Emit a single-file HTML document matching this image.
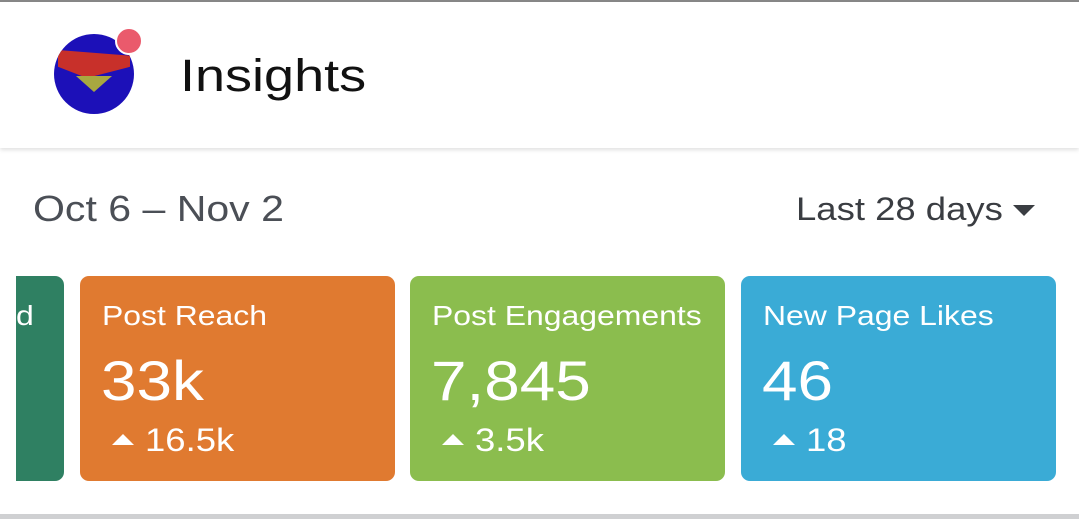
<!DOCTYPE html>
<html><head><meta charset="utf-8"><style>
*{margin:0;padding:0;box-sizing:border-box}
body{width:1079px;height:519px;overflow:hidden;background:#fff;font-family:"Liberation Sans",Arial,sans-serif;position:relative}
.abs{position:absolute}
.sx{transform:scaleX(1.14);transform-origin:0 0;white-space:nowrap}
.card{position:absolute;top:276px;height:205px;border-radius:9px;color:#fff}
.card .t{position:absolute;left:22px;top:24px;font-size:28px}
.card .v{position:absolute;left:21px;top:72px;font-size:56px}
.card .d{position:absolute;left:65px;top:146px;font-size:32px}
.card .tri{position:absolute;left:32px;top:158px;width:0;height:0;border-left:11px solid transparent;border-right:11px solid transparent;border-bottom:11px solid #fff}
</style></head><body>
<div class="abs" style="left:0;top:0;width:1079px;height:2px;background:#888"></div>
<div class="abs" style="left:0;top:2px;width:1079px;height:146px;background:#fff;box-shadow:0 2px 4px rgba(0,0,0,0.12)"></div>
<div class="abs" style="left:54px;top:34px;width:80px;height:80px;border-radius:50%;background:#1c10b8;overflow:hidden">
  <div class="abs" style="left:4px;top:16px;width:72px;height:28px;background:#c8302a;clip-path:polygon(0 0,100% 20%,100% 60%,40% 100%,0 60%)"></div>
  <div class="abs" style="left:22px;top:42px;width:36px;height:16px;background:#a8a840;clip-path:polygon(0 0,100% 0,50% 100%)"></div>
</div>
<div class="abs" style="left:115px;top:27px;width:28px;height:28px;border-radius:50%;background:#ea5a6c;border:2px solid #fff"></div>
<div class="abs sx" style="left:180px;top:50px;font-size:45px;color:#111;transform:scaleX(1.2)">Insights</div>
<div class="abs sx" style="left:33px;top:188px;font-size:36px;color:#4b4f56">Oct 6 – Nov 2</div>
<div class="abs sx" style="left:796px;top:191px;font-size:32px;color:#3a3d42">Last 28 days</div>
<div class="abs" style="left:1013px;top:205px;width:0;height:0;border-left:11px solid transparent;border-right:11px solid transparent;border-top:11px solid #3a3d42"></div>
<div class="card" style="left:16px;width:48px;background:#2f8062;border-radius:0 9px 9px 0"><div class="t sx" style="left:0">d</div></div>
<div class="card" style="left:80px;width:315px;background:#e07a30">
  <div class="t sx">Post Reach</div>
  <div class="v sx">33k</div>
  <div class="tri"></div><div class="d sx">16.5k</div>
</div>
<div class="card" style="left:410px;width:315px;background:#8bbd4e">
  <div class="t sx">Post Engagements</div>
  <div class="v sx">7,845</div>
  <div class="tri"></div><div class="d sx">3.5k</div>
</div>
<div class="card" style="left:741px;width:315px;background:#3aabd6">
  <div class="t sx">New Page Likes</div>
  <div class="v sx">46</div>
  <div class="tri"></div><div class="d sx">18</div>
</div>
<div class="abs" style="left:0;top:514px;width:1079px;height:5px;background:#cfd0d2"></div>
</body></html>
